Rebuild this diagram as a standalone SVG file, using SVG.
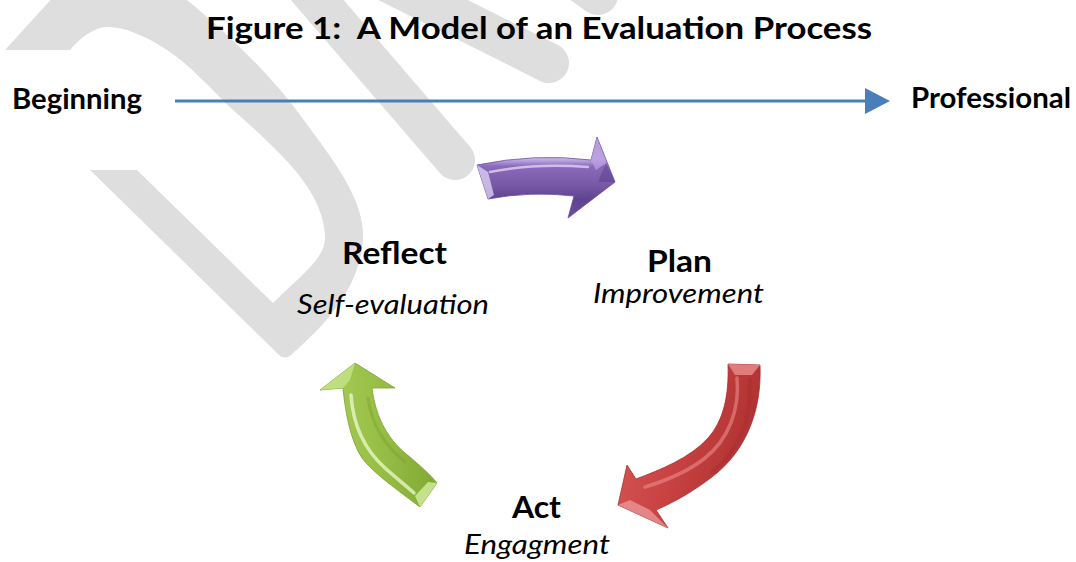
<svg xmlns="http://www.w3.org/2000/svg" width="1076" height="562" viewBox="0 0 1076 562">
  <style>
    .wm { fill: #dedede; }
    .wmb { fill: none; stroke: #dedede; stroke-width: 40; stroke-linecap: round; }
    .t { font-family: Lato, "Liberation Sans", sans-serif; fill: #000; }
    .b { font-weight: bold; }
    .i { font-style: italic; font-weight: normal; }
    .hl { fill: none; stroke-linecap: round; }
  </style>
  <defs>
    <marker id="blueHead" markerUnits="userSpaceOnUse" markerWidth="26" markerHeight="27" refX="0" refY="13" orient="auto">
      <path d="M0,0 L25,13 L0,26 Z" fill="#4a7ebb"/>
    </marker>
    <linearGradient id="gPurple" x1="0" y1="0" x2="0" y2="1">
      <stop offset="0" stop-color="#a98bd4"/>
      <stop offset="0.27" stop-color="#c8b2e8"/>
      <stop offset="0.36" stop-color="#8a6bbb"/>
      <stop offset="0.6" stop-color="#7658a6"/>
      <stop offset="0.77" stop-color="#5f4290"/>
      <stop offset="1" stop-color="#6c4e9c"/>
    </linearGradient>
    <linearGradient id="gRed" x1="0" y1="0" x2="1" y2="0.3">
      <stop offset="0" stop-color="#d85a5a"/>
      <stop offset="0.5" stop-color="#c94343"/>
      <stop offset="1" stop-color="#b03232"/>
    </linearGradient>
    <linearGradient id="gGreen" x1="0" y1="0" x2="1" y2="0">
      <stop offset="0" stop-color="#a9cc5c"/>
      <stop offset="0.5" stop-color="#98bf45"/>
      <stop offset="1" stop-color="#80a934"/>
    </linearGradient>
  </defs>

  <rect width="1076" height="562" fill="#ffffff"/>

  <g id="watermark">
    <path class="wm" d="M5,50 L55,-5 L180,-5 L187,0 C230,35 275,80 300,115 C335,162 365,200 363,240 C360,290 320,330 293,353 Q285,362 277,353 L90,170 L137,170 L273,303 C300,276 327,258 325,235 C323,205 305,180 283,157 C265,138 250,125 233,110 C210,88 190,65 167,50 C140,32 115,24 100,28 C88,32 78,40 70,50 Z"/>
    <path class="wmb" d="M300,-20 L455,160"/>
    <path class="wmb" d="M383,-20 L549,63"/>
    <path class="wmb" d="M555,-35 L598,-5"/>
  </g>

  <g id="connectors">
    <line id="progress-line" x1="175" y1="101" x2="865" y2="101" stroke="#4a7ebb" stroke-width="3" marker-end="url(#blueHead)"/>

    <g id="arrow-reflect-plan">
      <path d="M477,165 Q535,153 591,160 L597,137 L615,182 L568,218 L574,196 Q530,191 488,199 Z" fill="url(#gPurple)" stroke="#6a4c99" stroke-width="0.8"/>
      <path d="M477,165 L488,172 L494,195 L488,199 Z" fill="#dccdf2" opacity="0.8"/>
      <path d="M591,160 L597,137 L606,163 L596,170 Z" fill="#b89de0" opacity="0.8"/>
      <path d="M606,163 L615,182 L598,182 Z" fill="#5a3d88" opacity="0.5"/>
      <path class="hl" d="M490,172 Q535,163 588,167" stroke="#ece2fa" stroke-width="2.5" opacity="0.7"/>
    </g>

    <g id="arrow-plan-act">
      <path d="M728,364 L760,365 C762,412 745,452 712,477 C695,490 675,502 656,510 L668,528 L618,505 L627,465 L636,479 C660,470 690,458 708,438 C724,420 729,395 728,364 Z" fill="url(#gRed)" stroke="#a83030" stroke-width="0.8"/>
      <path d="M728,364 L760,365 L752,375 L735,375 Z" fill="#e88888" opacity="0.85"/>
      <path d="M618,505 L668,528 L650,510 L630,500 Z" fill="#f0a0a0" opacity="0.7"/>
      <path class="hl" d="M737,378 C740,410 728,440 705,458 C690,470 668,480 645,487" stroke="#ec8a8a" stroke-width="3.5" opacity="0.6"/>
      <path class="hl" d="M750,380 C752,420 738,452 712,472" stroke="#a82c2c" stroke-width="4" opacity="0.45"/>
    </g>

    <g id="arrow-act-reflect">
      <path d="M343,388 L320,390 L355,363 L395,388 L372,388 C376,420 390,442 410,457 C420,466 430,474 437,483 L420,507 C400,492 372,472 362,458 C350,440 345,410 343,388 Z" fill="url(#gGreen)" stroke="#7ea332" stroke-width="0.8"/>
      <path d="M320,390 L355,363 L350,380 L343,388 Z" fill="#c6e38a" opacity="0.8"/>
      <path d="M437,483 L420,507 L415,496 L428,482 Z" fill="#d5ee9d" opacity="0.8"/>
      <path class="hl" d="M351,395 C353,425 365,450 385,468 C395,477 405,485 414,493" stroke="#eef9d2" stroke-width="3.5" opacity="0.75"/>
      <path class="hl" d="M368,398 C372,425 385,446 405,462" stroke="#7aa22e" stroke-width="3" opacity="0.45"/>
    </g>
  </g>

  <g id="title">
    <text class="t b" x="206" y="39" font-size="31" textLength="666" lengthAdjust="spacingAndGlyphs" xml:space="preserve">Figure 1:  A Model of an Evaluation Process</text>
  </g>

  <g id="node-beginning">
    <text class="t b" x="12" y="109" font-size="28" textLength="130" lengthAdjust="spacingAndGlyphs">Beginning</text>
  </g>

  <g id="node-professional">
    <text class="t b" x="911" y="108" font-size="28" textLength="160" lengthAdjust="spacingAndGlyphs">Professional</text>
  </g>

  <g id="node-reflect">
    <text class="t b" x="342" y="264" font-size="29.5" textLength="105" lengthAdjust="spacingAndGlyphs">Reflect</text>
    <text class="t i" x="297" y="314" font-size="26.5" textLength="192" lengthAdjust="spacingAndGlyphs">Self-evaluation</text>
  </g>

  <g id="node-plan">
    <text class="t b" x="647" y="272" font-size="29.5" textLength="65" lengthAdjust="spacingAndGlyphs">Plan</text>
    <text class="t i" x="593" y="303" font-size="26.5" textLength="171" lengthAdjust="spacingAndGlyphs">Improvement</text>
  </g>

  <g id="node-act">
    <text class="t b" x="512" y="518" font-size="29.5" textLength="49" lengthAdjust="spacingAndGlyphs">Act</text>
    <text class="t i" x="464" y="554" font-size="26.5" textLength="146" lengthAdjust="spacingAndGlyphs">Engagment</text>
  </g>
</svg>
